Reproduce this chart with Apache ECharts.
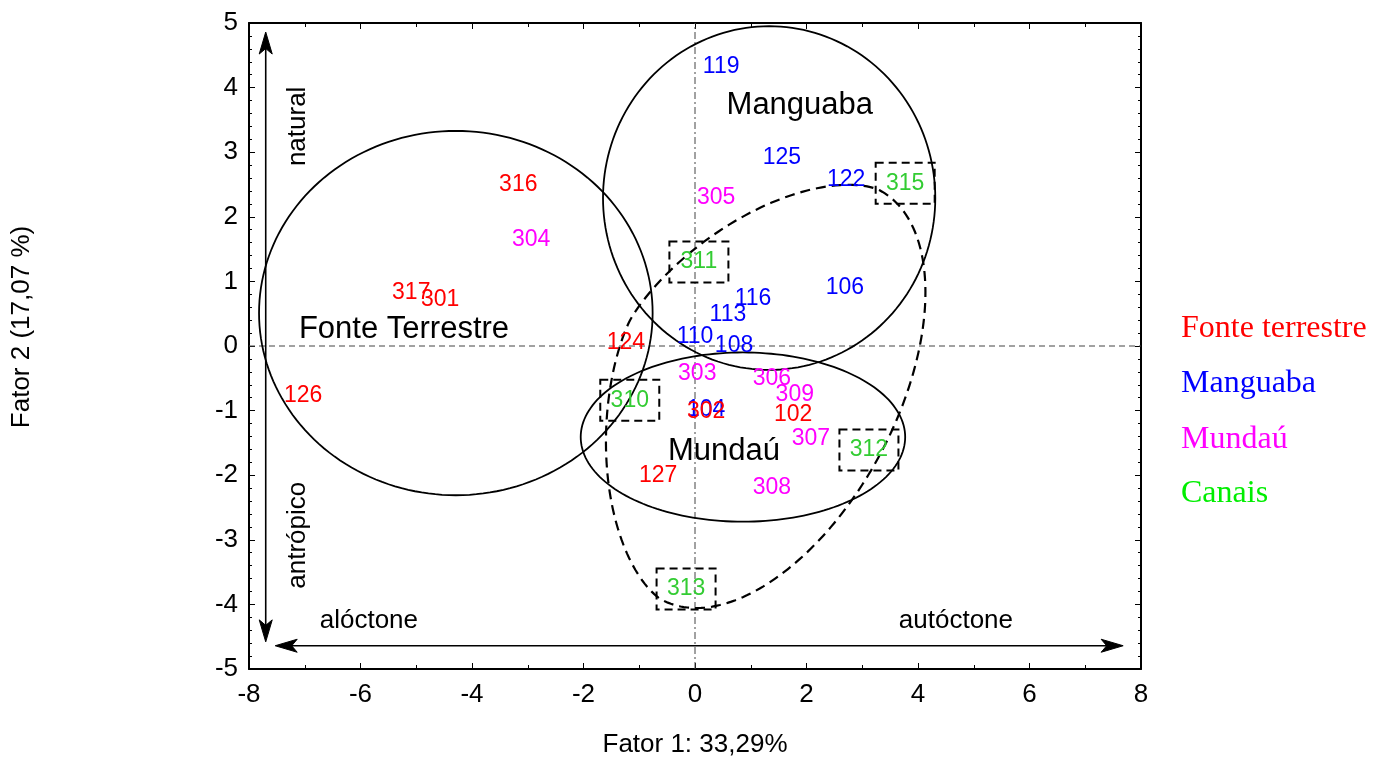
<!DOCTYPE html>
<html>
<head>
<meta charset="utf-8">
<script src="https://cdn.jsdelivr.net/npm/echarts@6/dist/echarts.min.js"></script>
<style>
html,body{margin:0;padding:0;background:#fff;}
#chart{width:1382px;height:758px;}
</style>
</head>
<body>
<div id="chart"></div>
<script>
// ---------- DATA ----------
const xTicks = [-8, -6, -4, -2, 0, 2, 4, 6, 8];
const yTicks = [-5, -4, -3, -2, -1, 0, 1, 2, 3, 4, 5];

const manguabaLabels = ['119', '125', '122', '106', '116', '113', '110', '108', '104'];
const manguabaX = [0.47, 1.56, 2.71, 2.69, 1.04, 0.59, 0.00, 0.70, 0.20];
const manguabaY = [4.33, 2.91, 2.57, 0.90, 0.74, 0.48, 0.14, 0.00, -0.99];

const fonteLabels = ['316', '317', '301', '124', '126', '302', '102', '127'];
const fonteX = [-3.17, -5.09, -4.57, -1.24, -7.03, 0.20, 1.76, -0.66];
const fonteY = [2.49, 0.82, 0.71, 0.05, -0.77, -1.02, -1.07, -2.00];

const mundauLabels = ['305', '304', '303', '306', '309', '307', '308'];
const mundauX = [0.38, -2.94, 0.04, 1.38, 1.79, 2.08, 1.38];
const mundauY = [2.29, 1.64, -0.43, -0.50, -0.76, -1.44, -2.20];

const canaisLabels = ['315', '311', '310', '312', '313'];
const canaisX = [3.77, 0.07, -1.17, 3.12, -0.16];
const canaisY = [2.52, 1.30, -0.84, -1.61, -3.76];

// group ellipses (centre x, centre y, radius x, radius y) in axis units
const ellipseCX = [-4.29, 1.33, 0.86];
const ellipseCY = [0.51, 2.29, -1.41];
const ellipseRX = [3.53, 2.98, 2.91];
const ellipseRY = [2.82, 2.66, 1.31];

// canais envelope (egg-like oval): centre, half-length, upper/lower half-widths (x units), tilt deg, shape exponents
const canaisEnvCenter = [1.36, -0.76];
const canaisEnvHalfLen = 4.16;
const canaisEnvHalfWid = [2.86, 2.23];
const canaisEnvTilt = 62;
const canaisEnvExp = [1.62, 2.0];

// gradient arrows [x1, y1, x2, y2]
const arrowV = [-7.70, 4.86, -7.70, -4.58];
const arrowH = [-7.53, -4.64, 7.68, -4.64];

// annotation texts
const annoText = ['natural', 'antrópico', 'alóctone', 'autóctone'];
const annoX = [-7.12, -7.12, -5.85, 4.68];
const annoY = [3.40, -2.93, -4.26, -4.26];
const annoRot = [90, 90, 0, 0];

const groupNames = ['Fonte Terrestre', 'Manguaba', 'Mundaú'];
const groupNameX = [-5.22, 1.88, 0.52];
const groupNameY = [0.25, 3.73, -1.64];

const legendNames = ['Fonte terrestre', 'Manguaba', 'Mundaú', 'Canais'];

// ---------- STYLE ----------
const SANS = '"Liberation Sans", Arial, sans-serif';
const SERIF = '"Liberation Serif", "Times New Roman", serif';
const COL = { fonte: '#ff0000', manguaba: '#0000ff', mundau: '#ff00ff', canais: '#33cc33' };
const legendColors = ['#ff0000', '#0000ff', '#ff00ff', '#00ee00'];

function labelSeries(labels, xs, ys, color, boxed, z) {
  const data = labels.map((l, i) => [xs[i], ys[i], l]);
  return {
    type: 'custom', coordinateSystem: 'cartesian2d', z: z, clip: false,
    data: data,
    renderItem: function (params, api) {
      const p = api.coord([api.value(0), api.value(1)]);
      const children = [];
      if (boxed) {
        children.push({ type: 'rect', shape: { x: p[0] - 29.5, y: p[1] - 20.5, width: 59, height: 41 },
          style: { fill: 'none', stroke: '#000', lineWidth: 2, lineDash: [8, 5] } });
      }
      children.push({ type: 'text', x: p[0], y: p[1],
        style: { text: data[params.dataIndex][2], fill: color, font: '23px ' + SANS,
          align: 'center', verticalAlign: 'middle', textAlign: 'center', textVerticalAlign: 'middle' } });
      return { type: 'group', children: children };
    }
  };
}

const ellipseData = ellipseCX.map((c, i) => [c, ellipseCY[i], ellipseRX[i], ellipseRY[i]]);

const option = {
  animation: false,
  backgroundColor: '#fff',
  grid: { left: 249, right: 241, top: 23, bottom: 89, containLabel: false },
  xAxis: [
    { type: 'value', min: xTicks[0], max: xTicks[xTicks.length - 1], interval: 2, position: 'bottom',
      axisLine: { show: true, onZero: false, lineStyle: { color: '#000', width: 2 } },
      axisTick: { show: true, inside: true, length: 6, lineStyle: { color: '#000', width: 1 } },
      minorTick: { show: true, splitNumber: 2, length: 4, lineStyle: { color: '#000' } },
      axisLabel: { color: '#000', fontSize: 26, fontFamily: SANS, margin: 13 },
      splitLine: { show: false } },
    { type: 'value', min: xTicks[0], max: xTicks[xTicks.length - 1], interval: 2, position: 'top',
      axisLine: { show: true, onZero: false, lineStyle: { color: '#000', width: 2 } },
      axisTick: { show: true, inside: true, length: 6, lineStyle: { color: '#000', width: 1 } },
      minorTick: { show: true, splitNumber: 2, length: 4, lineStyle: { color: '#000' } },
      axisLabel: { show: false }, splitLine: { show: false } }
  ],
  yAxis: [
    { type: 'value', min: yTicks[0], max: yTicks[yTicks.length - 1], interval: 1, position: 'left',
      axisLine: { show: true, onZero: false, lineStyle: { color: '#000', width: 2 } },
      axisTick: { show: true, inside: true, length: 6, lineStyle: { color: '#000', width: 1 } },
      minorTick: { show: true, splitNumber: 5, length: 3, lineStyle: { color: '#000' } },
      axisLabel: { color: '#000', fontSize: 26, fontFamily: SANS, margin: 11 },
      splitLine: { show: false } },
    { type: 'value', min: yTicks[0], max: yTicks[yTicks.length - 1], interval: 1, position: 'right',
      axisLine: { show: true, onZero: false, lineStyle: { color: '#000', width: 2 } },
      axisTick: { show: true, inside: true, length: 6, lineStyle: { color: '#000', width: 1 } },
      minorTick: { show: true, splitNumber: 5, length: 3, lineStyle: { color: '#000' } },
      axisLabel: { show: false }, splitLine: { show: false } }
  ],
  graphic: [
    { type: 'text', x: 695, y: 745,
      style: { text: 'Fator 1: 33,29%', font: '26px ' + SANS, fill: '#000', align: 'center', verticalAlign: 'middle' } },
    { type: 'text', x: 22, y: 327, rotation: Math.PI / 2,
      style: { text: 'Fator 2 (17,07 %)', font: '26px ' + SANS, fill: '#000', align: 'center', verticalAlign: 'middle' } }
  ].concat(legendNames.map((n, i) => ({
    type: 'text', x: 1181, y: [329, 384, 440, 494][i],
    style: { text: n, font: '32px ' + SERIF, fill: legendColors[i], align: 'left', verticalAlign: 'middle' }
  }))),
  series: [
    // zero reference lines
    { type: 'custom', coordinateSystem: 'cartesian2d', z: 1, clip: true,
      data: [[xTicks[0], 0, xTicks[xTicks.length - 1], 0, 0], [0, yTicks[0], 0, yTicks[yTicks.length - 1], 1]],
      renderItem: function (params, api) {
        const a = api.coord([api.value(0), api.value(1)]);
        const b = api.coord([api.value(2), api.value(3)]);
        const dash = api.value(4) ? [7, 3, 2, 3] : [6, 4];
        return { type: 'line', shape: { x1: a[0], y1: a[1], x2: b[0], y2: b[1] },
          style: { stroke: '#444', lineWidth: 1, lineDash: dash } };
      } },
    // group ellipses
    { type: 'custom', coordinateSystem: 'cartesian2d', z: 2, clip: false,
      data: ellipseData,
      renderItem: function (params, api) {
        const cx = api.value(0), cy = api.value(1), rx = api.value(2), ry = api.value(3);
        const pts = [];
        for (let k = 0; k < 180; k++) {
          const t = k / 180 * Math.PI * 2;
          pts.push(api.coord([cx + rx * Math.cos(t), cy + ry * Math.sin(t)]));
        }
        return { type: 'polygon', shape: { points: pts }, style: { fill: 'none', stroke: '#000', lineWidth: 1.8 } };
      } },
    // canais dashed envelope
    { type: 'custom', coordinateSystem: 'cartesian2d', z: 2, clip: false,
      data: [[canaisEnvCenter[0], canaisEnvCenter[1], canaisEnvHalfLen, canaisEnvHalfWid[0], canaisEnvHalfWid[1], canaisEnvTilt, canaisEnvExp[0], canaisEnvExp[1]]],
      renderItem: function (params, api) {
        const c = api.coord([api.value(0), api.value(1)]);
        const unit = api.size([1, 0])[0];
        const a = api.value(2) * unit, bUp = api.value(3) * unit, bLow = api.value(4) * unit;
        const th = api.value(5) * Math.PI / 180, nUp = api.value(6), nLow = api.value(7);
        const U = [Math.cos(th), -Math.sin(th)], V = [Math.sin(th), Math.cos(th)];
        const pts = [];
        for (let k = 0; k < 240; k++) {
          const t = k / 240 * Math.PI * 2;
          const ct = Math.cos(t), st = Math.sin(t);
          const n = st < 0 ? nUp : nLow;
          const b = st < 0 ? bUp : bLow;
          const u = a * Math.sign(ct) * Math.pow(Math.abs(ct), 2 / n);
          const v = b * Math.sign(st) * Math.pow(Math.abs(st), 2 / n);
          pts.push([c[0] + u * U[0] + v * V[0], c[1] + u * U[1] + v * V[1]]);
        }
        return { type: 'polygon', shape: { points: pts, smooth: 0 }, style: { fill: 'none', stroke: '#000', lineWidth: 2.2, lineDash: [10, 6] } };
      } },
    // arrows
    { type: 'custom', coordinateSystem: 'cartesian2d', z: 3, clip: false,
      data: [arrowV, arrowH],
      renderItem: function (params, api) {
        const p1 = api.coord([api.value(0), api.value(1)]);
        const p2 = api.coord([api.value(2), api.value(3)]);
        const dx = p2[0] - p1[0], dy = p2[1] - p1[1];
        const L = Math.sqrt(dx * dx + dy * dy);
        const ux = dx / L, uy = dy / L, nx = -uy, ny = ux;
        const hl = 22, hw = 6.5;
        const head = (tip, dir) => {
          const bx = tip[0] - dir * ux * hl, by = tip[1] - dir * uy * hl;
          return { type: 'polygon', shape: { points: [tip, [bx + nx * hw, by + ny * hw], [tip[0] - dir * ux * hl * 0.75, tip[1] - dir * uy * hl * 0.75], [bx - nx * hw, by - ny * hw]] },
            style: { fill: '#000', stroke: '#000', lineWidth: 1 } };
        };
        return { type: 'group', children: [
          { type: 'line', shape: { x1: p1[0] + ux * 10, y1: p1[1] + uy * 10, x2: p2[0] - ux * 10, y2: p2[1] - uy * 10 },
            style: { stroke: '#000', lineWidth: 1.6 } },
          head(p1, -1), head(p2, 1)
        ] };
      } },
    // annotation texts
    { type: 'custom', coordinateSystem: 'cartesian2d', z: 4, clip: false,
      data: annoText.map((t, i) => [annoX[i], annoY[i], annoRot[i]]),
      renderItem: function (params, api) {
        const p = api.coord([api.value(0), api.value(1)]);
        return { type: 'text', x: p[0], y: p[1], rotation: api.value(2) * Math.PI / 180,
          style: { text: annoText[params.dataIndex], font: '26px ' + SANS, fill: '#000', align: 'center', verticalAlign: 'middle' } };
      } },
    { type: 'custom', coordinateSystem: 'cartesian2d', z: 4, clip: false,
      data: groupNames.map((t, i) => [groupNameX[i], groupNameY[i]]),
      renderItem: function (params, api) {
        const p = api.coord([api.value(0), api.value(1)]);
        return { type: 'text', x: p[0], y: p[1],
          style: { text: groupNames[params.dataIndex], font: '31px ' + SANS, fill: '#000', align: 'center', verticalAlign: 'middle' } };
      } },
    labelSeries(manguabaLabels, manguabaX, manguabaY, COL.manguaba, false, 5),
    labelSeries(fonteLabels, fonteX, fonteY, COL.fonte, false, 6),
    labelSeries(mundauLabels, mundauX, mundauY, COL.mundau, false, 7),
    labelSeries(canaisLabels, canaisX, canaisY, COL.canais, true, 8)
  ]
};

const chart = echarts.init(document.getElementById('chart'), null, { renderer: 'canvas' });
chart.setOption(option);
</script>
</body>
</html>
